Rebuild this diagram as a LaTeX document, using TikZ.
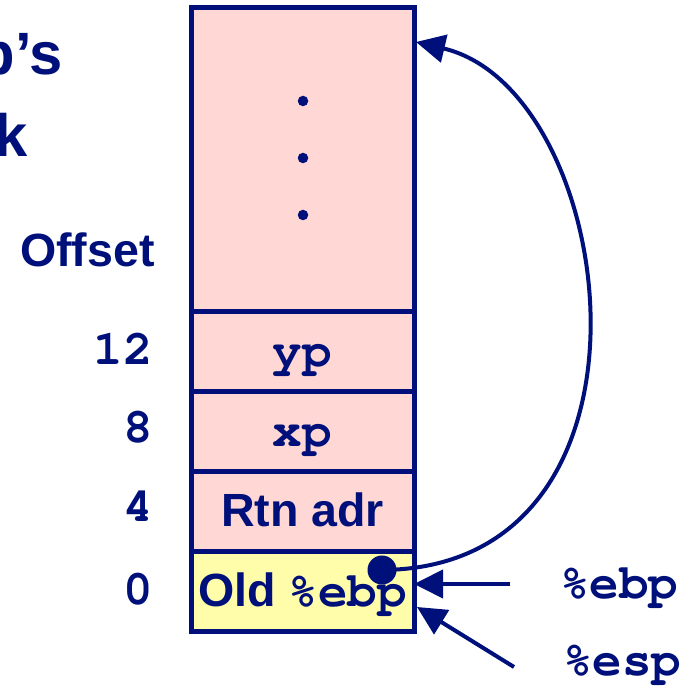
\documentclass[tikz,border=0pt]{standalone}
\usepackage{fontspec}
\setmainfont{Liberation Sans}
\newfontfamily\labelfont{Liberation Sans}[UprightFont=* Bold]
\newfontfamily\codefont{texgyrecursor-bold.otf}
\usetikzlibrary{arrows.meta,positioning}

\definecolor{navy}{RGB}{0,16,122}
\definecolor{stackpink}{RGB}{255,216,214}
\definecolor{stackyellow}{RGB}{255,252,170}

\newcommand{\regtxt}[1]{{\fontsize{28}{32}\codefont #1}}

\tikzset{
  cell/.style={draw=navy, line width=0.1cm, fill=stackpink, minimum width=4.46cm,
    minimum height=1.6cm, inner sep=0pt, outer sep=0pt, text height=0.66cm,
    text depth=0.06cm, text=navy, font=\fontsize{26.5}{30}\labelfont},
  offs/.style={anchor=base east, inner sep=0pt, text=navy,
    font=\fontsize{28}{32}\codefont},
  ptr/.style={navy, line width=0.08cm, -{Triangle[length=0.58cm,width=0.56cm]}},
}

\begin{document}
\begin{tikzpicture}
  \useasboundingbox (0,0) rectangle (13.78,13.92);

  % title, cut at the left edge
  \node[anchor=base east, inner sep=0pt, text=navy, font=\fontsize{34}{40}\labelfont] (title1) at (1.26,12.42) {Swap’s};
  \node[anchor=base east, inner sep=0pt, text=navy, font=\fontsize{34}{40}\labelfont] (title2) at (0.56,10.78) {Stack};

  % the frame
  \node[cell, fill=stackyellow] (old) at (6.05,2.08) {Old \regtxt{\%ebp}};
  \node[cell, above=0pt of old] (rtn) {Rtn adr};
  \node[cell, above=0pt of rtn] (xp) {\regtxt{xp}};
  \node[cell, above=0pt of xp] (yp) {\regtxt{yp}};
  \node[cell, above=0pt of yp, minimum height=6.09cm] (more) {};
  \foreach \y in {11.9,10.76,9.62}
    \fill[navy] (6.06,\y) circle (0.105);

  % offsets
  \node[anchor=base east, inner sep=0pt, text=navy, font=\fontsize{26.5}{30}\labelfont] (offset) at (3.1,8.58) {Offset};
  \node[offs] (off12) at (3.06,6.62) {12};
  \node[offs] (off8) at (3.06,5.06) {8};
  \node[offs] (off4) at (3.06,3.48) {4};
  \node[offs] (off0) at (3.06,1.82) {0};

  % saved frame pointer
  \node[circle, fill=navy, minimum size=0.58cm, inner sep=0pt] (ebpdot) at (7.64,2.52) {};
  \coordinate (frametop) at (8.32,13.08);
  \draw[ptr] (ebpdot.center) .. controls (13.6,2.56) and (12.4,12.12) .. (frametop);

  % registers
  \node[offs, anchor=base west] (ebplbl) at (11.2,1.94) {\%ebp};
  \node[offs, anchor=base west] (esplbl) at (11.26,0.4) {\%esp};
  \coordinate (ebptail) at (10.2,2.24);
  \coordinate (esptail) at (10.28,0.58);
  \coordinate (esptip) at (8.34,1.78);
  \draw[ptr] (ebptail) -- (ebptail -| old.east);
  \draw[ptr] (esptail) -- (esptip);
\end{tikzpicture}
\end{document}
